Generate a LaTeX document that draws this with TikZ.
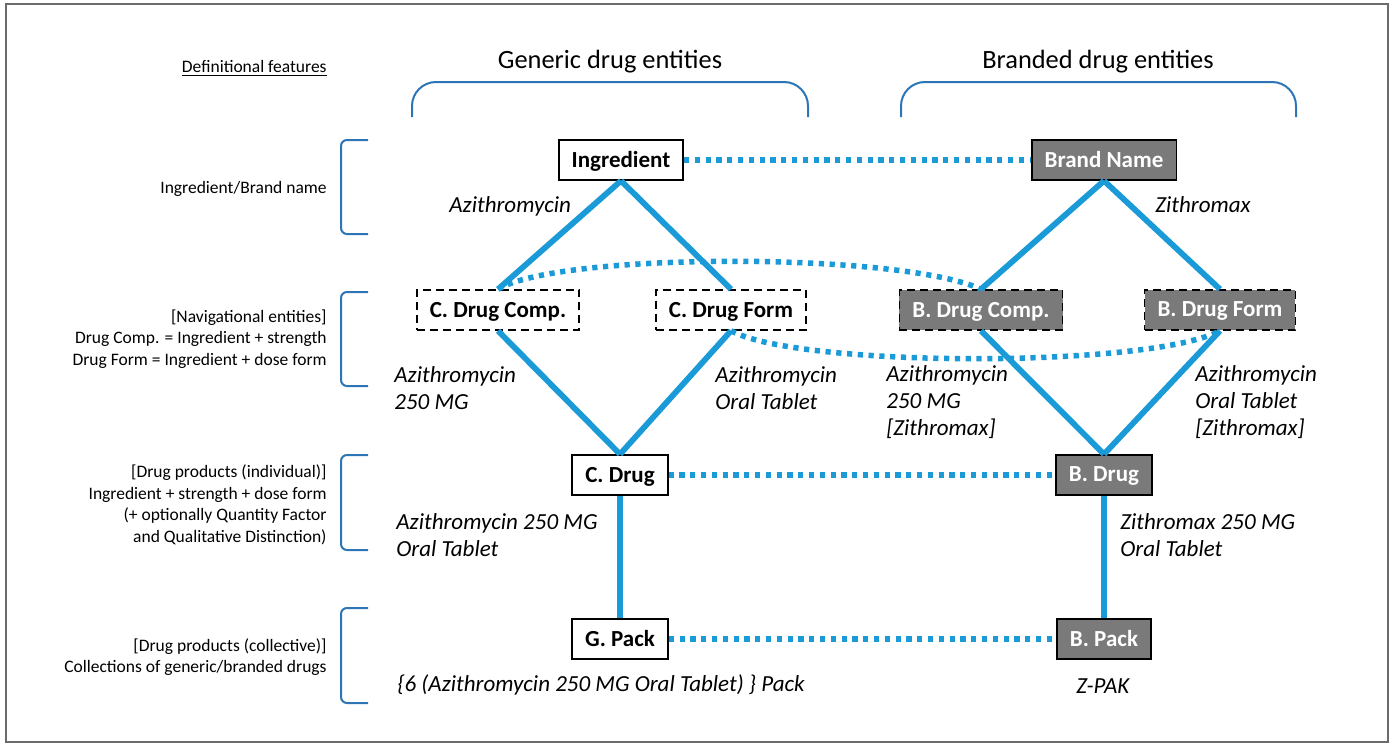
\documentclass[tikz,border=0pt]{standalone}
\usepackage{fontspec}
\setmainfont{Carlito}
\definecolor{linkblue}{HTML}{1A9BD7}
\definecolor{braceblue}{HTML}{2E75B6}
\definecolor{boxgray}{HTML}{7A7A7A}
\definecolor{framegray}{HTML}{6B6B6B}
\tikzset{
  generic/.style={draw=black, line width=0.8pt, fill=white, font=\fontsize{11.5}{13.5}\selectfont\bfseries,
    minimum height=20pt, inner xsep=6.5pt, text depth=0.5pt},
  branded/.style={generic, fill=boxgray, text=white},
  navbox/.style={dash pattern=on 4pt off 2.5pt},
  link/.style={draw=linkblue, line width=2.9pt},
  equiv/.style={draw=linkblue, line width=2.75pt, dash pattern=on 2.6pt off 2.8pt},
  brace/.style={draw=braceblue, line width=1pt},
  example/.style={font=\fontsize{11.5}{13.5}\selectfont\itshape, inner sep=0pt, anchor=west, align=left},
  feature/.style={font=\fontsize{8.75}{10.75}\selectfont, inner sep=0pt, anchor=east, align=right},
  heading/.style={font=\fontsize{13.2}{15}\selectfont}
}

\begin{document}
\begin{tikzpicture}[x=0.5pt, y=-0.5pt]
\useasboundingbox (0,0) rectangle (1394,744);
\draw[framegray, line width=1pt] (6,4) rectangle (1388,742);

% Column headings and their braces
\node[heading] (genhead) at (610,62) {Generic drug entities};
\node[heading] (brahead) at (1098,62) {Branded drug entities};
\draw[brace, rounded corners=12pt] (412,117) -- (412,82) -- (808,82) -- (808,117);
\draw[brace, rounded corners=12pt] (901,117) -- (901,82) -- (1296,82) -- (1296,117);

% Definitional features (left column)
\node[feature] (deffeat) at (327,68) {\underline{Definitional features}};
\node[feature] (featingr) at (327,189) {Ingredient/Brand name};
\node[feature] (featnav) at (327,339) {[Navigational entities]\\Drug Comp. = Ingredient + strength\\Drug Form = Ingredient + dose form};
\node[feature] (featind) at (327,505) {[Drug products (individual)]\\Ingredient + strength + dose form\\(+ optionally Quantity Factor\\and Qualitative Distinction)};
\node[feature] (featcol) at (327,657) {[Drug products (collective)]\\Collections of generic/branded drugs};
\foreach \top/\bot in {140/234, 292/386, 455/550, 608/703}
  \draw[brace, rounded corners=3pt] (368,\top) -- (341,\top) -- (341,\bot) -- (368,\bot);

% Generic entities
\node[generic] (ingredient) at (621,160) {Ingredient};
\node[generic, navbox] (cdcomp) at (498,310) {C. Drug Comp.};
\node[generic, navbox] (cdform) at (731,310) {C. Drug Form};
\node[generic] (cdrug) at (620,475) {C. Drug};
\node[generic] (gpack) at (620,639) {G. Pack};

% Branded entities
\node[branded] (brandname) at (1104,160) {Brand Name};
\node[branded, navbox] (bdcomp) at (981,310) {B. Drug Comp.};
\node[branded, navbox] (bdform) at (1220,310) {B. Drug Form};
\node[branded] (bdrug) at (1104,475) {B. Drug};
\node[branded] (bpack) at (1104,639) {B. Pack};

% Hierarchy links
\draw[link] (ingredient.south) -- (cdcomp.north);
\draw[link] (ingredient.south) -- (cdform.north);
\draw[link] (cdcomp.south) -- (cdrug.north);
\draw[link] (cdform.south) -- (cdrug.north);
\draw[link] (cdrug) -- (gpack);
\draw[link] (brandname.south) -- (bdcomp.north);
\draw[link] (brandname.south) -- (bdform.north);
\draw[link] (bdcomp.south) -- (bdrug.north);
\draw[link] (bdform.south) -- (bdrug.north);
\draw[link] (bdrug) -- (bpack);

% Generic <-> branded
\draw[equiv] (ingredient) -- (brandname);
\draw[equiv] (cdrug) -- (bdrug);
\draw[equiv] (gpack) -- (bpack);
\draw[equiv] (cdcomp.north) .. controls (560,252) and (900,252) .. (bdcomp.north);
\draw[equiv] (cdform.south) .. controls (800,368) and (1150,368) .. (bdform.south);

% Example names
\node[example] (exingr) at (449,206) {Azithromycin};
\node[example] (exbrand) at (1155,205) {Zithromax};
\node[example] (excdc) at (394,388) {Azithromycin\\250 MG};
\node[example] (excdf) at (715,388) {Azithromycin\\Oral Tablet};
\node[example] (exbdc) at (886,402) {Azithromycin\\250 MG\\{}[Zithromax]};
\node[example] (exbdf) at (1195,402) {Azithromycin\\Oral Tablet\\{}[Zithromax]};
\node[example] (excdrug) at (396,535) {Azithromycin 250 MG\\Oral Tablet};
\node[example] (exbdrug) at (1120,535) {Zithromax 250 MG\\Oral Tablet};
\node[example] (exgpack) at (397,685) {\{6 (Azithromycin 250 MG Oral Tablet) \} Pack};
\node[example] (exbpack) at (1076,686) {Z-PAK};

\end{tikzpicture}
\end{document}
